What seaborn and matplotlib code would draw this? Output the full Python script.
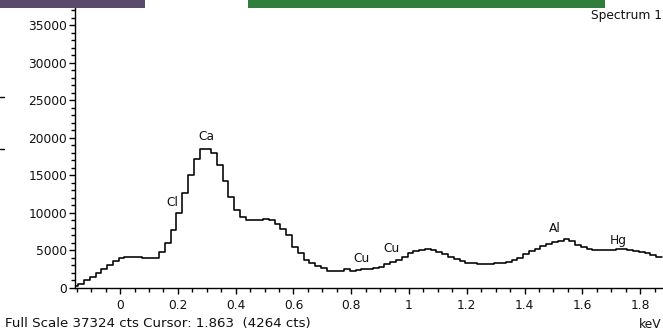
import numpy as np
import pandas as pd
import matplotlib
matplotlib.use("Agg")
import matplotlib.pyplot as plt
from matplotlib.lines import Line2D
from matplotlib.patches import Rectangle
from matplotlib.ticker import MultipleLocator, FixedLocator
import seaborn as sns

# ---- data (EDS spectrum, 20 eV channels) ----
channel_start_kev = -0.165
channel_width_kev = 0.02
counts = [
    250, 490, 1060, 1500, 2000, 2500, 3000, 3580, 3940, 4150,
    4150, 4100, 3950, 3950, 4050, 4830, 6030, 7790, 9990, 12600,
    15100, 17150, 18520, 18520, 17940, 16400, 14250, 12100, 10400, 9400,
    9020, 9020, 9100, 9190, 9100, 8580, 7920, 7030, 5480, 4680,
    3710, 3270, 2920, 2610, 2300, 2300, 2300, 2480, 2300, 2350,
    2480, 2480, 2680, 2830, 3140, 3450, 3710, 4070, 4600, 4900,
    5130, 5260, 5040, 4810, 4510, 4150, 3800, 3540, 3360, 3270,
    3180, 3180, 3200, 3360, 3360, 3400, 3710, 4020, 4470, 4900,
    5260, 5610, 5930, 6150, 6320, 6500, 6230, 5750, 5480, 5260,
    5130, 5130, 5130, 5040, 5170, 5170, 5040, 4900, 4810, 4600,
    4380, 4150,
]
peak_labels = ["Cl", "Ca", "Cu", "Cu", "Al", "Hg"]
peak_kev = [0.18, 0.30, 0.835, 0.94, 1.505, 1.725]
peak_cts = [11400, 20200, 3900, 5300, 7900, 6300]
x_tick_values = [0, 0.2, 0.4, 0.6, 0.8, 1, 1.2, 1.4, 1.6, 1.8]
x_tick_labels = ["0", "0.2", "0.4", "0.6", "0.8", "1", "1.2", "1.4", "1.6", "1.8"]
y_tick_values = [0, 5000, 10000, 15000, 20000, 25000, 30000, 35000]
full_scale = 37324
footer_text = "Full Scale 37324 cts Cursor: 1.863  (4264 cts)"
unit_text = "keV"
title_text = "Spectrum 1"

n = len(counts)
edges = channel_start_kev + channel_width_kev * np.arange(n + 1)
centers = (edges[:-1] + edges[1:]) / 2
df = pd.DataFrame({"energy": centers, "counts": counts})

# ---- style ----
sns.set_style("white")
plt.rcParams["font.family"] = ["DejaVu Sans"]
fs = 8.8

fig = plt.figure(figsize=(6.63, 3.32), dpi=100)
fig.patch.set_facecolor("white")
ax = fig.add_axes([75 / 663, 1 - 288 / 332, 1 - 75 / 663, (288 - 8) / 332])
ax.set_facecolor("white")

sns.histplot(data=df, x="energy", weights="counts", bins=[float(e) for e in edges],
             element="step", fill=False, color="black", linewidth=1.15, ax=ax)

ax.set_xlim(-0.156, 1.879)
ax.set_ylim(0, full_scale)
ax.set_xlabel("")
ax.set_ylabel("")

for s in ["top", "right"]:
    ax.spines[s].set_visible(False)
for s in ["left", "bottom"]:
    ax.spines[s].set_color("black")
    ax.spines[s].set_linewidth(1.0)

ax.xaxis.set_major_locator(FixedLocator(x_tick_values))
ax.set_xticklabels(x_tick_labels)
ax.xaxis.set_minor_locator(MultipleLocator(0.05))
ax.yaxis.set_major_locator(FixedLocator(y_tick_values))
ax.set_yticklabels([str(v) for v in y_tick_values])
ax.yaxis.set_minor_locator(MultipleLocator(1000))
ax.tick_params(which="both", bottom=True, left=True, top=False, right=False)
ax.tick_params(which="major", direction="out", length=4.2, width=1.0,
               color="black", labelsize=fs, labelcolor="#111111", pad=1.5)
ax.tick_params(which="minor", direction="out", length=2.6, width=1.0, color="black")
ax.tick_params(axis="x", which="major", pad=4)

for lab, xk, yc in zip(peak_labels, peak_kev, peak_cts):
    ax.text(xk, yc, lab, ha="center", va="center", fontsize=fs, color="#111111")

fig.text(5 / 663, 1 - 324 / 332, footer_text, ha="left", va="center",
         fontsize=9.6, color="#111111")
fig.text(662 / 663, 1 - 324 / 332, unit_text, ha="right", va="center",
         fontsize=fs, color="#111111")
fig.text(662 / 663, 1 - 16 / 332, title_text, ha="right", va="center",
         fontsize=fs, color="#111111")

# window decorations at the top of the screenshot
fig.add_artist(Rectangle((0, 1 - 8 / 332), 145 / 663, 8 / 332,
                         transform=fig.transFigure, color="#5a4b6d", lw=0))
fig.add_artist(Rectangle((248 / 663, 1 - 8 / 332), (605 - 248) / 663, 8 / 332,
                         transform=fig.transFigure, color="#2f7e3a", lw=0))
for yy in (97, 149):
    fig.add_artist(Line2D([0, 4 / 663], [1 - yy / 332] * 2,
                          transform=fig.transFigure, color="black", lw=1))

fig.savefig("out.png", dpi=100, facecolor="white")
